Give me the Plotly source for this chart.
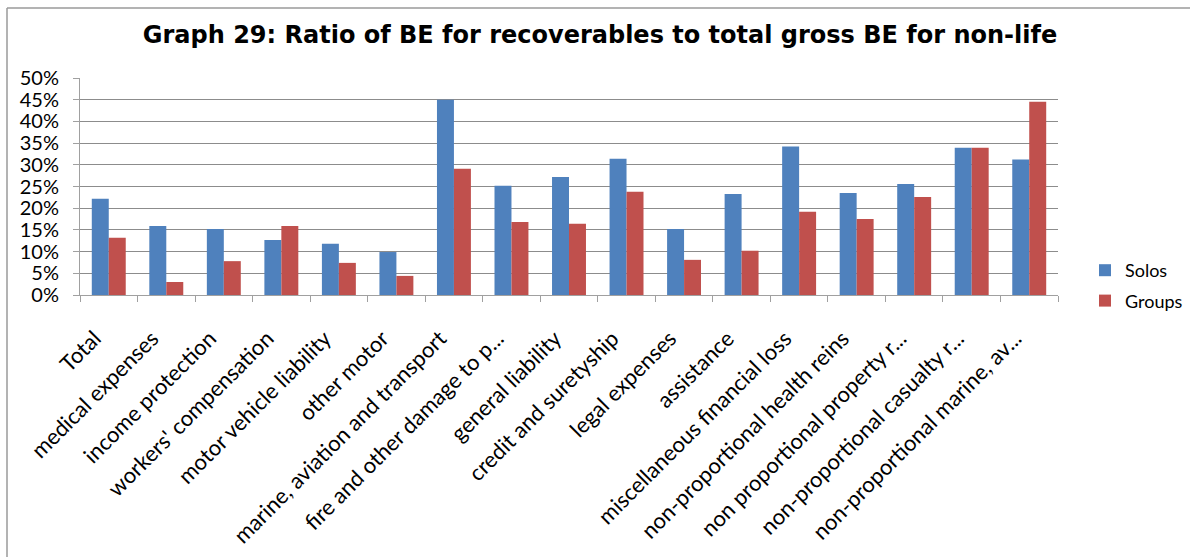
import plotly.graph_objects as go

categories = [
    "Total", "medical expenses", "income protection", "workers' compensation",
    "motor vehicle liability", "other motor", "marine, aviation and transport",
    "fire and other damage to p...", "general liability", "credit and suretyship",
    "legal expenses", "assistance", "miscellaneous financial loss",
    "non-proportional health reins", "non proportional property r...",
    "non-proportional casualty r...", "non-proportional marine, av...",
]
solos = [0.222, 0.159, 0.152, 0.127, 0.118, 0.099, 0.450, 0.252, 0.272, 0.314,
         0.152, 0.233, 0.342, 0.235, 0.256, 0.339, 0.312]
groups = [0.132, 0.030, 0.078, 0.159, 0.074, 0.044, 0.291, 0.168, 0.164, 0.238,
          0.081, 0.102, 0.192, 0.175, 0.226, 0.339, 0.445]

W, H = 1190, 557
L, R, T, B = 80, 132, 78, 262
pw, ph = W - L - R, H - T - B

fig = go.Figure()
fig.add_trace(go.Bar(x=categories, y=solos, name="Solos", marker_color="#4F81BD",
                     marker_line_width=0, legendgroup="a"))
fig.add_trace(go.Bar(x=categories, y=groups, name="Groups", marker_color="#C0504D",
                     marker_line_width=0, legendgroup="b"))

def px_x(p):
    return (p - L) / pw

def px_y(p):
    return (H - B - p) / ph

fig.update_layout(
    width=W, height=H,
    margin=dict(l=L, r=R, t=T, b=B, autoexpand=False),
    paper_bgcolor="white", plot_bgcolor="white",
    barmode="group", bargap=0.41, bargroupgap=0,
    title=dict(text="<b>Graph 29: Ratio of BE for recoverables to total gross BE for non-life</b>",
               x=600 / W, xanchor="center", y=1 - 35 / H, yanchor="middle",
               font=dict(family="DejaVu Sans", size=24, color="black")),
    font=dict(family="Lato", color="black"),
    legend=dict(x=px_x(1085), xanchor="left", y=px_y(252), yanchor="top",
                font=dict(size=18, family="Lato"), tracegroupgap=4,
                itemwidth=30, bgcolor="rgba(0,0,0,0)"),
    xaxis=dict(tickangle=-45, tickfont=dict(size=22, family="Lato", color="black"),
               showline=True, linecolor="#A0A0A0", linewidth=1,
               ticks="outside", tickson="boundaries", ticklen=6, tickcolor="#A0A0A0",
               ticklabelstandoff=21, ticklabelshift=-14,
               showgrid=False),
    yaxis=dict(range=[0, 0.5], dtick=0.05, tickformat=".0%",
               tickfont=dict(size=20, family="Lato"),
               showline=True, linecolor="#A0A0A0", linewidth=1,
               ticks="outside", ticklen=6, tickcolor="#A0A0A0",
               showgrid=True, gridcolor="#8C8C8C", gridwidth=1,
               ticklabelstandoff=10, zeroline=False),
    shapes=[
        dict(type="line", xref="paper", yref="paper", x0=px_x(7), x1=px_x(1195),
             y0=px_y(8), y1=px_y(8), line=dict(color="#9A9A9A", width=1.5)),
        dict(type="line", xref="paper", yref="paper", x0=px_x(7), x1=px_x(7),
             y0=px_y(8), y1=px_y(560), line=dict(color="#9A9A9A", width=1.5)),
    ],
)

fig.write_html(
    "out.html",
    config={"displayModeBar": False},
    post_script="document.body.style.margin='0';document.body.style.overflow='hidden';",
)
